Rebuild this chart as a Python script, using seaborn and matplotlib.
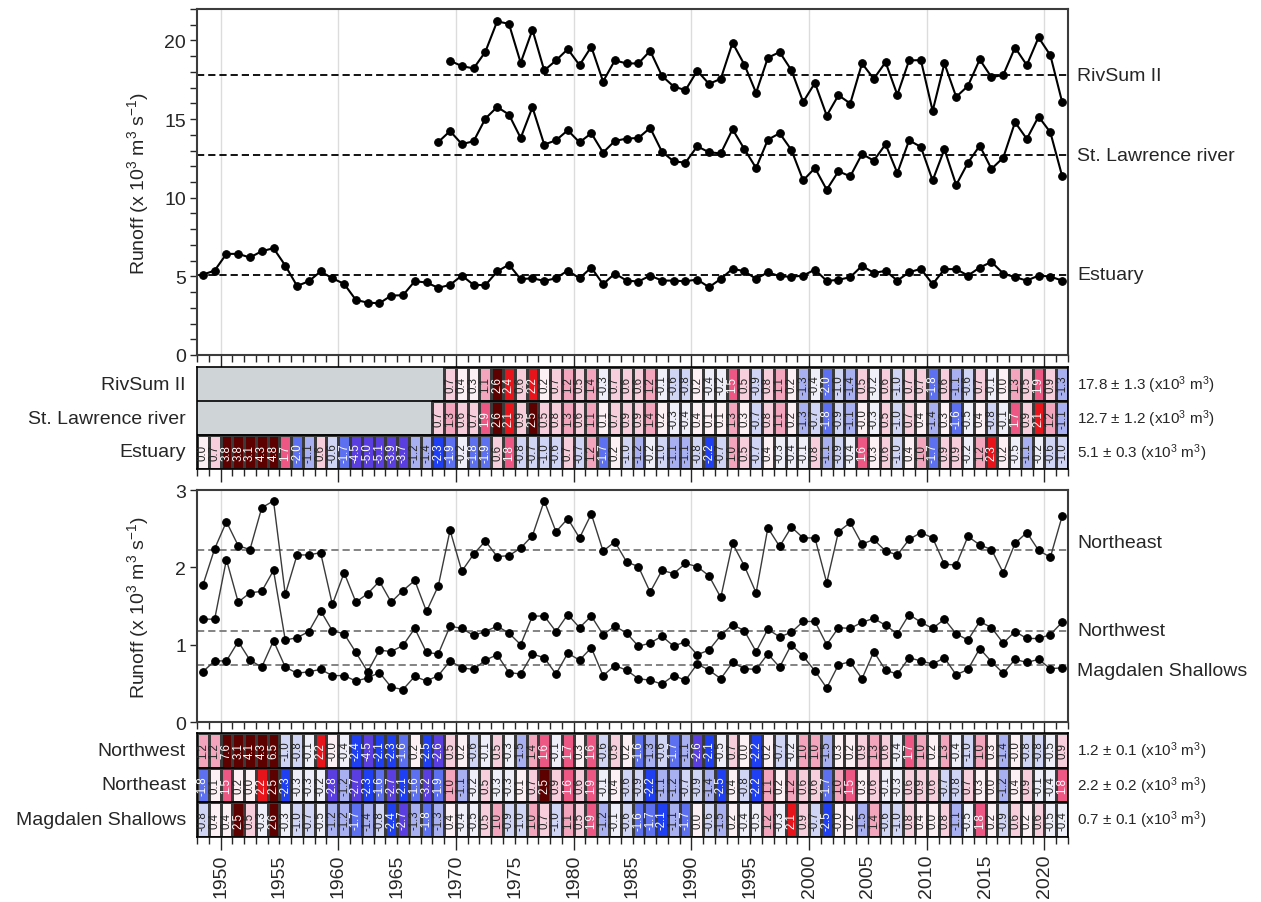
import numpy as np
import pandas as pd
import seaborn as sns
import matplotlib.pyplot as plt
import matplotlib.transforms as mtrans
from matplotlib.colors import ListedColormap, BoundaryNorm, to_rgba
from matplotlib.ticker import FuncFormatter

sns.set_style("white")
plt.rcParams['font.family'] = ['Liberation Sans', 'DejaVu Sans']
plt.rcParams['mathtext.fontset'] = 'custom'
plt.rcParams['mathtext.rm'] = 'Liberation Sans'
plt.rcParams['mathtext.default'] = 'regular'

years = np.arange(1948, 2022)
nan = np.nan

# ---- runoff series (x10^3 m3/s) ----
rivsum = [nan] * 21 + [
    18.71, 18.37, 18.22, 19.28, 21.21, 21.06, 18.58, 20.68, 18.09, 18.73, 19.45, 18.43, 19.60, 17.39, 18.73, 18.54,
    18.54, 19.34, 17.75, 17.07, 16.84, 18.07, 17.24, 17.56, 19.85, 18.47, 16.67, 18.90, 19.26, 18.11, 16.09, 17.30,
    15.22, 16.52, 15.99, 18.54, 17.56, 18.62, 16.54, 18.73, 18.75, 15.52, 18.54, 16.41, 17.11, 18.79, 17.66, 17.81,
    19.55, 18.43, 20.19, 19.06, 16.09]
stlawrence = [nan] * 20 + [
    13.54, 14.24, 13.41, 13.59, 15.03, 15.77, 15.29, 13.80, 15.75, 13.38, 13.65, 14.29, 13.52, 14.10, 12.87, 13.61, 13.76,
    13.80, 14.44, 12.93, 12.31, 12.23, 13.27, 12.89, 12.82, 14.35, 13.10, 11.89, 13.69, 14.10, 13.04, 11.10, 11.89,
    10.51, 11.68, 11.36, 12.78, 12.36, 13.40, 11.57, 13.65, 13.23, 11.10, 13.08, 10.81, 12.22, 13.31, 11.83, 12.55,
    14.80, 13.74, 15.16, 14.16, 11.38]
estuary = [
    5.11, 5.37, 6.43, 6.43, 6.20, 6.60, 6.79, 5.69, 4.39, 4.69, 5.31, 4.88, 4.52, 3.50, 3.33, 3.29, 3.78, 3.80, 4.69,
    4.61, 4.27, 4.46, 5.05, 4.46, 4.44, 5.31, 5.75, 4.82, 4.88, 4.71, 4.88, 5.37, 4.88, 5.56, 4.50, 5.18, 4.73,
    4.67, 5.05, 4.73, 4.73, 4.69, 4.80, 4.31, 4.84, 5.48, 5.33, 4.84, 5.26, 5.01, 4.97, 5.05, 5.43, 4.71, 4.78,
    4.95, 5.67, 5.22, 5.35, 4.73, 5.26, 5.48, 4.50, 5.46, 5.46, 5.05, 5.56, 5.92, 5.18, 4.95, 4.73, 5.05, 4.99, 4.73]

northeast = [
    1.77, 2.24, 2.59, 2.28, 2.23, 2.77, 2.86, 1.65, 2.16, 2.16, 2.19, 1.52, 1.93, 1.55, 1.66, 1.82, 1.55, 1.70, 1.83,
    1.43, 1.76, 2.48, 1.95, 2.17, 2.34, 2.14, 2.15, 2.25, 2.41, 2.86, 2.46, 2.63, 2.38, 2.69, 2.21, 2.33, 2.07,
    2.01, 1.68, 1.96, 1.92, 2.05, 2.01, 1.89, 1.61, 2.31, 2.02, 1.67, 2.51, 2.27, 2.52, 2.38, 2.38, 1.80, 2.46,
    2.58, 2.30, 2.36, 2.21, 2.16, 2.36, 2.45, 2.38, 2.04, 2.03, 2.40, 2.29, 2.23, 1.93, 2.31, 2.45, 2.22, 2.13, 2.66]
northwest = [
    1.33, 1.33, 2.10, 1.55, 1.67, 1.69, 1.96, 1.06, 1.09, 1.17, 1.44, 1.18, 1.14, 0.90, 0.65, 0.93, 0.91, 0.99, 1.21,
    0.90, 0.88, 1.24, 1.21, 1.12, 1.17, 1.24, 1.15, 1.00, 1.37, 1.37, 1.17, 1.39, 1.22, 1.37, 1.13, 1.24, 1.15,
    0.98, 1.02, 1.11, 0.98, 1.04, 0.87, 0.93, 1.12, 1.26, 1.18, 0.91, 1.20, 1.10, 1.16, 1.30, 1.30, 1.00, 1.22,
    1.21, 1.29, 1.34, 1.25, 1.14, 1.39, 1.29, 1.21, 1.33, 1.14, 1.06, 1.30, 1.22, 1.02, 1.17, 1.08, 1.08, 1.13, 1.29]
magdalen = [
    0.65, 0.79, 0.79, 1.04, 0.80, 0.71, 1.05, 0.71, 0.63, 0.65, 0.68, 0.60, 0.60, 0.53, 0.57, 0.64, 0.45, 0.42, 0.59,
    0.53, 0.60, 0.79, 0.70, 0.68, 0.80, 0.87, 0.64, 0.62, 0.88, 0.83, 0.62, 0.89, 0.80, 0.96, 0.60, 0.73, 0.67,
    0.56, 0.54, 0.49, 0.60, 0.54, 0.75, 0.67, 0.56, 0.77, 0.69, 0.68, 0.88, 0.71, 1.00, 0.85, 0.66, 0.44, 0.74,
    0.78, 0.56, 0.91, 0.67, 0.62, 0.83, 0.79, 0.75, 0.83, 0.61, 0.68, 0.95, 0.78, 0.63, 0.81, 0.77, 0.81, 0.69, 0.70]

# ---- standardized anomalies shown in the scorecards ----
rivsum_anom = [nan] * 21 + [
    0.7, 0.4, 0.3, 1.1, 2.6, 2.4, 0.6, 2.2, 0.2, 0.7, 1.2, 0.5, 1.4, -0.3, 0.7, 0.6, 0.6, 1.2, -0.1, -0.6, -0.8,
    0.2, -0.4, -0.2, 1.5, 0.5, -0.9, 0.8, 1.1, 0.2, -1.3, -0.4, -2.0, -1.0, -1.4, 0.5, -0.2, 0.6, -1.0, 0.7, 0.7,
    -1.8, 0.6, -1.1, -0.6, 0.7, -0.1, 0.0, 1.3, 0.5, 1.9, 0.9, -1.3]
stlawrence_anom = [nan] * 20 + [
    0.7, 1.3, 0.6, 0.7, 1.9, 2.6, 2.1, 0.9, 2.5, 0.5, 0.8, 1.3, 0.6, 1.1, 0.1, 0.7, 0.9, 0.9, 1.4, 0.2, -0.3, -0.4,
    0.4, 0.1, 0.1, 1.3, 0.3, -0.7, 0.8, 1.1, 0.2, -1.3, -0.7, -1.8, -0.9, -1.1, -0.0, -0.3, 0.5, -1.0, 0.7, 0.4,
    -1.4, 0.3, -1.6, -0.5, 0.4, -0.8, -0.1, 1.7, 0.9, 2.1, 1.2, -1.1]
estuary_anom = [
    0.0, 0.7, 3.8, 3.8, 3.1, 4.3, 4.8, 1.7, -2.0, -1.1, 0.6, -0.6, -1.7, -4.5, -5.0, -5.1, -3.9, -3.7, -1.2, -1.4,
    -2.3, -1.9, -0.2, -1.8, -1.9, 0.6, 1.8, -0.8, -0.7, -1.0, -0.6, 0.7, -0.7, 1.2, -1.7, 0.2, -1.0, -1.2, -0.2,
    -1.0, -1.1, -1.1, -0.8, -2.2, -0.7, 1.0, 0.5, -0.7, 0.4, -0.3, -0.4, -0.1, 0.8, -1.1, -0.9, -0.4, 1.6, 0.3,
    0.6, -1.0, 0.4, 1.0, -1.7, 0.9, 0.9, -0.2, 1.2, 2.3, 0.2, -0.5, -1.1, -0.2, -0.6, -1.0]
northwest_anom = [
    1.2, 1.2, 7.6, 3.1, 4.1, 4.3, 6.5, -1.0, -0.8, -0.1, 2.2, -0.0, -0.4, -2.4, -4.5, -2.1, -2.3, -1.6, 0.2, -2.5,
    -2.6, 0.5, 0.2, -0.6, -0.1, 0.5, -0.3, -1.5, 1.4, 1.6, -0.1, 1.7, 0.3, 1.6, -0.6, 0.5, 0.2, -1.6, -1.3, -0.6,
    -1.7, -1.1, -2.6, -2.1, -0.5, 0.7, 0.0, -2.2, 0.2, -0.7, -0.2, 1.0, 1.0, -1.5, 0.3, 0.2, 0.9, 1.3, 0.6, -0.4,
    1.7, 1.0, 0.2, 1.3, -0.4, -1.0, 1.0, 0.3, -1.4, -0.0, -0.8, -0.8, -0.5, 0.9]
northeast_anom = [
    -1.8, 0.1, 1.5, 0.2, 0.0, 2.2, 2.5, -2.3, -0.3, -0.3, -0.2, -2.8, -1.2, -2.7, -2.3, -1.6, -2.7, -2.1, -1.6, -3.2,
    -1.9, 1.0, -1.1, -0.2, 0.5, -0.3, -0.3, 0.1, 0.7, 2.5, 0.9, 1.6, 0.6, 1.9, -0.1, 0.4, -0.6, -0.9, -2.2, -1.1,
    -1.2, -0.7, -0.9, -1.4, -2.5, 0.4, -0.8, -2.2, 1.1, 0.2, 1.2, 0.6, 0.6, -1.7, 1.0, 1.5, 0.3, 0.6, -0.1, -0.3,
    0.6, 0.9, 0.6, -0.7, -0.8, 0.7, 0.3, 0.0, -1.2, 0.4, 0.9, -0.1, -0.4, 1.8]
magdalen_anom = [
    -0.8, 0.4, 0.4, 2.5, 0.5, -0.3, 2.6, -0.3, -1.0, -0.7, -0.5, -1.2, -1.2, -1.7, -1.4, -0.8, -2.4, -2.7, -1.3,
    -1.8, -1.3, 0.4, -0.4, -0.5, 0.5, 1.0, -0.9, -1.0, 1.0, 0.7, -1.0, 1.1, 0.5, 1.9, -1.2, -0.1, -0.6, -1.6, -1.7,
    -2.1, -1.1, -1.7, 0.0, -0.6, -1.5, 0.2, -0.4, -0.5, 1.2, -0.3, 2.1, 0.9, -0.7, -2.5, -0.0, 0.2, -1.5, 1.4,
    -0.6, -1.0, 0.8, 0.4, 0.0, 0.8, -1.1, -0.5, 1.8, 0.2, -0.9, 0.6, 0.2, 0.6, -0.5, -0.4]

top_names = ["RivSum II", "St. Lawrence river", "Estuary"]
top_means = [17.8, 12.7, 5.1]
top_stats = ["17.8 ± 1.3", "12.7 ± 1.2", "5.1 ± 0.3"]

bot_names = ["Northeast", "Northwest", "Magdalen Shallows"]
bot_means = [2.22, 1.18, 0.74]
bot_label_y = [2.32, 1.18, 0.66]

heat2_names = ["Northwest", "Northeast", "Magdalen Shallows"]
heat2_stats = ["1.2 ± 0.1", "2.2 ± 0.2", "0.7 ± 0.1"]

# scorecard palette
bounds = [-20, -2.5, -2.0, -1.5, -1.0, -0.5, 0, 0.5, 1.0, 1.5, 2.0, 2.5, 20]
card_colors = ['#5b3ee0', '#1f3ff2', '#5d70f0', '#a9b0f2', '#d0d4f5', '#eeeff9',
               '#fcf0f4', '#f7cfdc', '#f2a5bd', '#ec5784', '#e8141c', '#5c0000']
cmap = ListedColormap(card_colors)
norm = BoundaryNorm(bounds, cmap.N)
missing_gray = '#cfd5d6'
cell_edge = '#3a3a3a'

W, H = 1261, 903
fig = plt.figure(figsize=(W / 100, H / 100), dpi=100)


def box(l, t, r, b):
    return [l / W, 1 - b / H, (r - l) / W, (b - t) / H]


ax_top = fig.add_axes(box(197, 10, 1068, 356))
ax_h1 = fig.add_axes(box(197, 368, 1068, 470))
ax_bot = fig.add_axes(box(197, 491, 1068, 723))
ax_h2 = fig.add_axes(box(197, 734, 1068, 838))

decades = np.arange(1950, 2030, 10)
ylab = "Runoff (x 10$^3$ m$^3$ s$^{-1}$)"


def line_panel(ax, series, names, means, label_y, line_col, mean_col, lw, ylim, yticks, yminor):
    for d in decades:
        ax.axvline(d, color='#dcdcdc', lw=1, zorder=0)
    for vals, m in zip(series, means):
        ax.axhline(m, color=mean_col, ls=(0, (4, 2.2)), lw=1.3, zorder=1)
        sns.lineplot(x=years + 0.5, y=vals, ax=ax, color=line_col, lw=lw, marker='o',
                     markersize=5.5, markerfacecolor='k', markeredgecolor='k', zorder=3)
    tr = mtrans.blended_transform_factory(ax.transAxes, ax.transData)
    for name, ly in zip(names, label_y):
        ax.text(1.0105, ly, name, transform=tr, va='center', ha='left', fontsize=14)
    ax.set_xlim(1948, 2022)
    ax.set_ylim(*ylim)
    ax.set_xticks(decades)
    ax.set_xticks(np.arange(1948, 2023), minor=True)
    ax.set_yticks(yticks)
    if yminor is not None:
        ax.set_yticks(yminor, minor=True)
    ax.tick_params(axis='x', which='major', length=9, width=1, direction='out',
                   bottom=True, labelbottom=False)
    ax.tick_params(axis='x', which='minor', length=5, width=1, direction='out', bottom=True)
    ax.tick_params(axis='y', which='both', length=5, width=1, direction='out', left=True,
                   labelsize=14, pad=3)
    ax.set_ylabel(ylab, fontsize=14)
    ax.yaxis.set_label_coords(-0.053, 0.5)
    ax.set_xlabel("")
    for s in ax.spines.values():
        s.set_color('#3c3c3c')
        s.set_linewidth(1.5)


line_panel(ax_top, [rivsum, stlawrence, estuary], top_names, top_means, top_means,
           'k', 'k', 1.5, (0, 22), [0, 5, 10, 15, 20], np.arange(0, 23))
line_panel(ax_bot, [northeast, northwest, magdalen], bot_names, bot_means, bot_label_y,
           '#3a3a3a', '#7a7a7a', 1.0, (0, 3), [0, 1, 2, 3], None)


def heat_panel(ax, frame, stats, show_labels):
    ax.set_facecolor(missing_gray)
    sns.heatmap(frame, ax=ax, cmap=cmap, norm=norm, cbar=False, annot=True, fmt='.1f',
                annot_kws={'rotation': 90, 'fontsize': 8.3}, linewidths=0.8, linecolor=cell_edge,
                xticklabels=False, yticklabels=True)
    # hide the cell grid inside the "no data" block
    mesh = ax.collections[0]
    missing = np.isnan(frame.values).ravel()
    edges = np.tile(to_rgba(cell_edge), (missing.size, 1))
    edges[missing] = to_rgba(missing_gray)
    mesh.set_edgecolor(edges)
    for r in range(1, frame.shape[0]):
        ax.axhline(r, color='k', lw=1.2)
    tr = mtrans.blended_transform_factory(ax.transAxes, ax.transData)
    for i, s in enumerate(stats):
        ax.text(1.0105, i + 0.5, s + " (x10$^3$ m$^3$)", transform=tr, va='center',
                ha='left', fontsize=11)
    ax.set_xlim(0, len(years))
    pos = years - years[0]
    ax.set_xticks(pos[years % 10 == 0])
    ax.set_xticks(np.arange(0, len(years) + 1), minor=True)
    if show_labels:
        ax.xaxis.set_major_formatter(FuncFormatter(lambda v, p: str(int(round(v)) + years[0])))
        ax.xaxis.set_minor_formatter(FuncFormatter(
            lambda v, p: str(int(round(v)) + years[0]) if (int(round(v)) + years[0]) % 10 == 5 else ''))
    ax.tick_params(axis='x', which='major', length=9, width=1, bottom=True, direction='out',
                   labelbottom=show_labels, labelsize=14, labelrotation=90, pad=3)
    ax.tick_params(axis='x', which='minor', length=5, width=1, bottom=True, direction='out',
                   labelbottom=show_labels, labelsize=14, labelrotation=90, pad=7)
    ax.tick_params(axis='y', length=0, labelsize=14, pad=8, labelrotation=0)
    ax.set_xlabel("")
    ax.set_ylabel("")
    for s in ax.spines.values():
        s.set_visible(True)
        s.set_color('k')
        s.set_linewidth(1.2)


heat1 = pd.DataFrame([rivsum_anom, stlawrence_anom, estuary_anom], index=top_names, columns=years)
heat2 = pd.DataFrame([northwest_anom, northeast_anom, magdalen_anom], index=heat2_names, columns=years)

heat_panel(ax_h1, heat1, top_stats, False)
heat_panel(ax_h2, heat2, heat2_stats, True)

fig.savefig('out.png', dpi=100)
